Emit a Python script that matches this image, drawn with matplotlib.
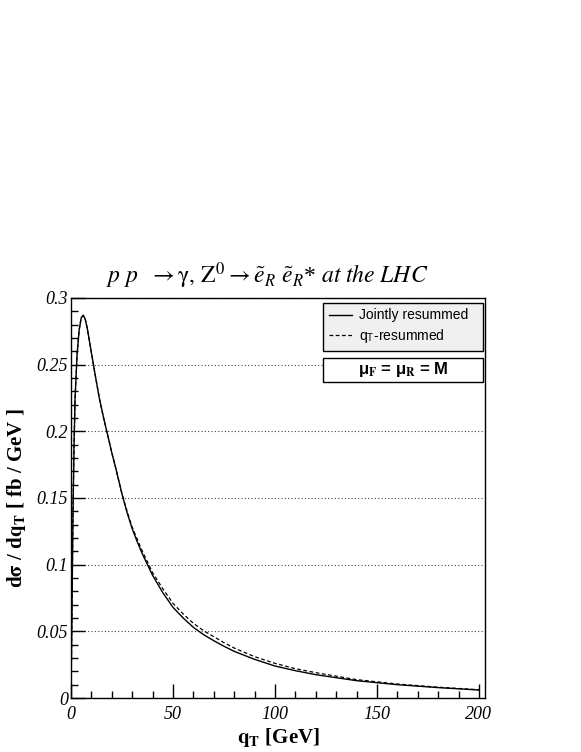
import numpy as np
import matplotlib
matplotlib.use('Agg')
import matplotlib.pyplot as plt
from matplotlib.ticker import MultipleLocator, FuncFormatter
from matplotlib.lines import Line2D
from matplotlib.patches import Rectangle

# qT values [GeV] and the two resummed distributions [fb/GeV]
qt = [0, 0.5, 1, 1.5, 2, 3, 4, 5, 6, 7, 8, 9, 10, 11, 12, 14, 16, 18, 20, 22, 25,
      27.5, 30, 32.5, 35, 40, 45, 50, 55, 60, 65, 70, 75, 80, 90, 100, 110, 120,
      140, 160, 180, 200]
jointly = [0, 0.07, 0.14, 0.19, 0.225, 0.258, 0.276, 0.285, 0.287, 0.284, 0.277,
           0.268, 0.259, 0.250, 0.241, 0.224, 0.210, 0.197, 0.184, 0.172, 0.153,
           0.139, 0.127, 0.117, 0.108, 0.092, 0.079, 0.068, 0.060, 0.053, 0.0475,
           0.043, 0.0388, 0.035, 0.029, 0.024, 0.0205, 0.0175, 0.013, 0.0100,
           0.0078, 0.006]
qt_resummed = [0, 0.07, 0.14, 0.19, 0.225, 0.258, 0.276, 0.285, 0.287, 0.284, 0.277,
               0.268, 0.259, 0.250, 0.241, 0.224, 0.210, 0.197, 0.184, 0.172, 0.153,
               0.140, 0.128, 0.119, 0.110, 0.094, 0.082, 0.071, 0.063, 0.056, 0.0505,
               0.046, 0.0415, 0.0375, 0.031, 0.026, 0.022, 0.019, 0.0138, 0.0105,
               0.0081, 0.0062]

x_major = [0, 50, 100, 150, 200]
y_major = [0, 0.05, 0.1, 0.15, 0.2, 0.25, 0.3]

serif = 'Liberation Serif'
sans = 'Liberation Sans'
plt.rcParams['mathtext.fontset'] = 'stix'

fig = plt.figure(figsize=(5.81, 7.52), dpi=100)
ax = fig.add_axes([0.1222, 0.0718, 0.7126, 0.532])

ax.plot(qt, jointly, color='black', lw=1.0, ls='-')
ax.plot(qt, qt_resummed, color='black', lw=0.9, ls=(0, (3, 2)))

ax.set_xlim(0, 203)
ax.set_ylim(0, 0.3)
ax.set_xticks(x_major)
ax.set_yticks(y_major)
ax.xaxis.set_minor_locator(MultipleLocator(10))
ax.yaxis.set_minor_locator(MultipleLocator(0.01))
ax.yaxis.set_major_formatter(FuncFormatter(lambda v, p: '%g' % round(v, 3)))
ax.tick_params(which='both', direction='in', top=False, right=False, width=1)
ax.tick_params(which='major', length=10)
ax.tick_params(which='minor', length=5)
ax.tick_params(axis='x', pad=6)
ax.tick_params(axis='y', pad=2)
for lab in ax.get_xticklabels() + ax.get_yticklabels():
    lab.set_fontfamily(serif)
    lab.set_fontstyle('italic')
    lab.set_fontsize(13)

ax.yaxis.grid(True, which='major', ls=(0, (1, 2)), color='#444444', lw=0.8)
for s in ax.spines.values():
    s.set_linewidth(1.0)

ax.set_xlabel(r'$\mathbf{q_T}$ [GeV]', fontfamily=serif, fontweight='bold',
              fontsize=15, labelpad=2)
ax.set_ylabel(r'd$\mathbf{\sigma}$ / d$\mathbf{q_T}$ [ fb / GeV ]', fontfamily=serif,
              fontweight='bold', fontsize=15, labelpad=6)

fig.text(0.46, 0.624,
         r'$p\ p\ \ \rightarrow \mathrm{\gamma},\, \mathrm{Z}^{0} \rightarrow'
         r' \tilde{e}_{R}\ \tilde{e}_{R}$* $at\ the\ LHC$',
         ha='center', va='baseline', fontsize=17, fontfamily=serif)

handles = [Line2D([], [], color='black', lw=1.0, ls='-'),
           Line2D([], [], color='black', lw=0.9, ls=(0, (3, 2)))]
leg = ax.legend(handles, ['Jointly resummed', r'q$_\mathregular{T}$-resummed'],
                loc='upper left', bbox_to_anchor=(0.609, 0.8675, 0.386, 0.12),
                mode='expand', borderaxespad=0, fancybox=False, framealpha=1,
                prop={'family': sans, 'size': 10}, handlelength=1.7,
                handletextpad=0.5, labelspacing=0.35, borderpad=0.4)
leg.get_frame().set_facecolor('#f0f0f0')
leg.get_frame().set_edgecolor('black')
leg.get_frame().set_linewidth(1.0)

ax.add_patch(Rectangle((0.609, 0.79), 0.386, 0.06, transform=ax.transAxes,
                       facecolor='white', edgecolor='black', lw=1.0, zorder=5))
ax.text(0.802, 0.821, r'$\mathregular{\mu}_\mathbf{F}$ = $\mathregular{\mu}_\mathbf{R}$ = M',
        transform=ax.transAxes, ha='center', va='center', fontfamily=sans,
        fontweight='bold', fontsize=12, zorder=6)

fig.savefig('out.png', dpi=100)
